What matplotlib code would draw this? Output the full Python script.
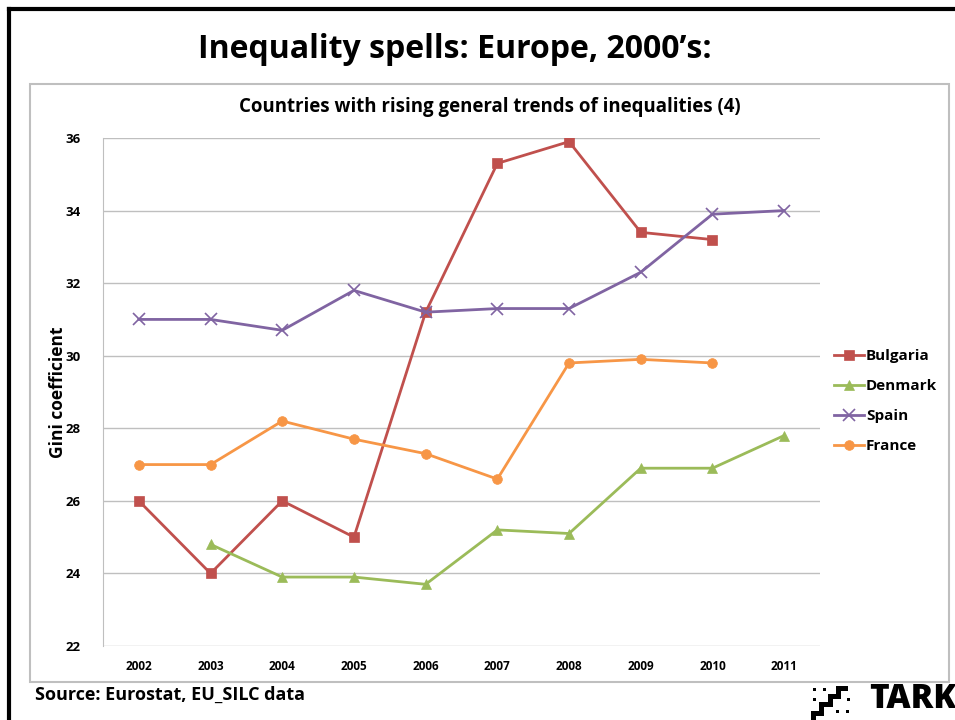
import matplotlib.pyplot as plt
from matplotlib.patches import Rectangle, Polygon
from matplotlib.lines import Line2D
import numpy as np

plt.rcParams['font.family'] = ['Open Sans', 'DejaVu Sans']
plt.rcParams['font.weight'] = 'bold'

years = [2002, 2003, 2004, 2005, 2006, 2007, 2008, 2009, 2010, 2011]
bulgaria = [26.0, 24.0, 26.0, 25.0, 31.2, 35.3, 35.9, 33.4, 33.2, None]
denmark = [None, 24.8, 23.9, 23.9, 23.7, 25.2, 25.1, 26.9, 26.9, 27.8]
spain = [31.0, 31.0, 30.7, 31.8, 31.2, 31.3, 31.3, 32.3, 33.9, 34.0]
france = [27.0, 27.0, 28.2, 27.7, 27.3, 26.6, 29.8, 29.9, 29.8, None]

series = [
    ("Bulgaria", bulgaria, "#C0504D", "s"),
    ("Denmark", denmark, "#9BBB59", "^"),
    ("Spain", spain, "#8064A2", "x"),
    ("France", france, "#F79646", "o"),
]

W, H = 955, 720


def fx(px):
    return px / W


def fy(py):
    return 1 - py / H


fig = plt.figure(figsize=(9.55, 7.2), dpi=100)

# slide frame and chart box
fig.add_artist(Line2D([fx(9), fx(9)], [0, fy(9)], color="black", lw=3))
fig.add_artist(Line2D([fx(9), 1], [fy(9), fy(9)], color="black", lw=3))
fig.add_artist(Rectangle((fx(30), fy(682)), 919 / W, 598 / H,
                         transform=fig.transFigure, fill=False,
                         edgecolor="#BFBFBF", lw=1.5))

fig.text(fx(455), fy(50), "Inequality spells: Europe, 2000\u2019s:",
         ha="center", va="center", fontsize=23, fontweight="bold")

ax = fig.add_axes([fx(103), fy(646), 717 / W, 508 / H])
x = np.arange(len(years))
for name, vals, col, mk in series:
    y = np.array([np.nan if v is None else v for v in vals])
    ms = 7 if mk != "x" else 8
    ax.plot(x, y, color=col, lw=2, marker=mk, markersize=ms,
            markeredgewidth=1.2 if mk == "x" else 0.5,
            markeredgecolor=col, label=name)

ax.set_xlim(-0.5, len(years) - 0.5)
ax.set_ylim(22, 36)
ax.set_yticks(range(22, 37, 2))
ax.set_xticks(x)
ax.set_xticklabels([str(yr) for yr in years])
ax.tick_params(axis="x", length=0, labelsize=8.5, pad=10)
ax.tick_params(axis="y", length=0, labelsize=9.5, pad=16)
ax.grid(axis="y", color="#BFBFBF", lw=1)
ax.set_axisbelow(True)
for s in ["top", "right", "bottom"]:
    ax.spines[s].set_visible(False)
ax.spines["left"].set_color("#BFBFBF")
ax.set_ylabel("Gini coefficient", fontsize=12.5, fontweight="bold")
ax.yaxis.set_label_coords(-0.05, 0.5)

ax.set_title("Countries with rising general trends of inequalities (4)",
             fontsize=13.4, fontweight="bold", pad=19, x=0.54)

ax.legend(loc="center left", bbox_to_anchor=(1.0, 0.482), frameon=False,
          fontsize=11, handlelength=2.0, handletextpad=0.1, labelspacing=1.05,
          borderaxespad=0.5)

fig.text(fx(35), fy(695), "Source: Eurostat, EU_SILC data",
         ha="left", va="center", fontsize=13, fontweight="bold")

# logo
fig.text(fx(956), fy(699), "TARK", ha="right", va="center",
         fontsize=24, fontweight="heavy")
stairs = [(811, 720), (811, 711), (819, 711), (819, 702), (828, 702),
          (828, 694), (836, 694), (836, 686), (848, 686), (848, 691),
          (841, 691), (841, 699), (833, 699), (833, 707), (824, 707),
          (824, 716), (816, 716), (816, 720)]
fig.add_artist(Polygon([(fx(a), fy(b)) for a, b in stairs], closed=True,
                       transform=fig.transFigure, color="black", lw=0))
for px, py in [(813, 688), (823, 688), (813, 698), (847, 698),
               (836, 710), (846, 710)]:
    fig.add_artist(Rectangle((fx(px), fy(py + 3)), 3 / W, 3 / H,
                             transform=fig.transFigure, color="black", lw=0))

fig.savefig("out.png", dpi=100)
